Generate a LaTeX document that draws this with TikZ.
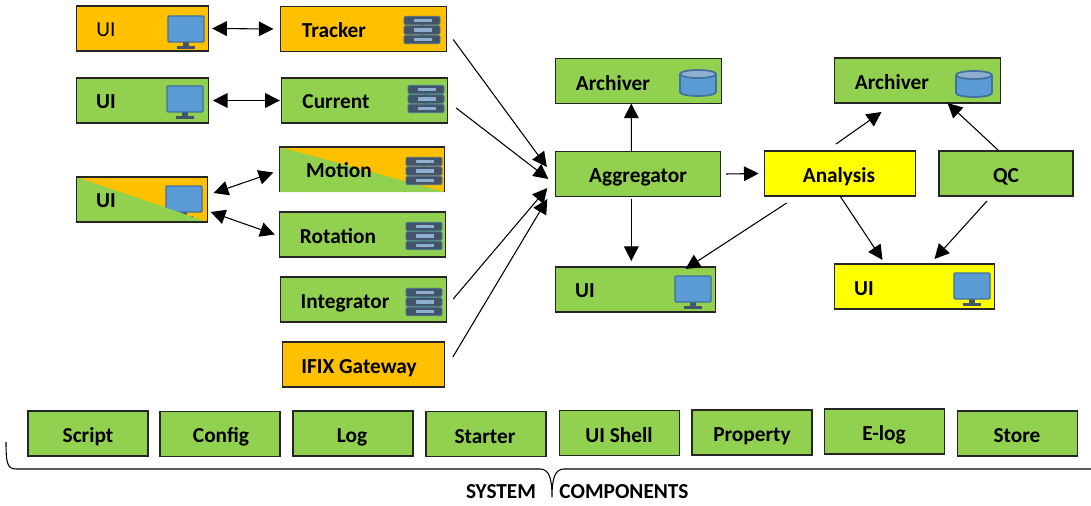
\documentclass[tikz,border=0pt]{standalone}
\usepackage{fontspec}
\setmainfont{Carlito}
\usetikzlibrary{arrows.meta}
\definecolor{boxgreen}{HTML}{92D050}
\definecolor{boxorange}{HTML}{FFC000}
\definecolor{boxyellow}{HTML}{FFFF00}
\definecolor{iconblue}{HTML}{5B9BD5}
\definecolor{iconedge}{HTML}{41719C}
\definecolor{icondark}{HTML}{44546A}
\definecolor{iconlight}{HTML}{8FAFD0}
\tikzset{
  box/.style={draw=black!85, line width=.9pt, inner sep=0pt, outer sep=0pt, minimum height=33.75pt, fill=boxgreen},
  widebox/.style={box, minimum width=124pt},
  uibox/.style={box, minimum width=98.5pt},
  midbox/.style={box, minimum width=113pt},
  toolbox/.style={box, minimum width=90pt},
  lbl/.style={inner sep=0pt, yshift=-1.7pt, text height=10pt, text depth=3pt, font=\fontsize{16}{18}\selectfont\bfseries},
  conn/.style={line width=.8pt, black, -{Triangle[length=11pt,width=11pt]}},
  twoway/.style={line width=.8pt, black, {Triangle[length=11pt,width=11pt]}-{Triangle[length=11pt,width=11pt]}},
  monitor/.pic={
    \fill[icondark] (-3,9) rectangle (3,15);
    \fill[icondark] (-9,14) rectangle (9,17);
    \draw[iconedge, line width=1pt, fill=iconblue, rounded corners=.8pt] (-18,-16) rectangle (18,10);
  },
  serverstack/.pic={
    \fill[icondark] (-1,-8) rectangle (1,8);
    \foreach \rowy in {-9.5,0,9.5}{
      \draw[iconedge, line width=.5pt, fill=icondark, rounded corners=1pt] (-18,\rowy-4.2) rectangle (18,\rowy+4.2);
      \fill[iconlight] (-8,\rowy-1.7) rectangle (10,\rowy+1.7);
      \fill[black!70] (13.5,\rowy) circle (1.1pt);
    }
  },
  drum/.pic={
    \draw[iconedge, line width=1.3pt, fill=iconblue] (-18,-9) -- (-18,9) arc[start angle=180, end angle=0, x radius=18, y radius=4] -- (18,-9);
    \draw[iconedge, line width=1.3pt, fill=iconlight] (0,-9) ellipse[x radius=18, y radius=4];
  }
}
\begin{document}
\begin{tikzpicture}[x=.75pt, y=-.75pt]
  \useasboundingbox (0,0) rectangle (1091,506);
  % sources
  \node[uibox, fill=boxorange] (uiTracker) at (142.5,28.5) {};
  \node[widebox, fill=boxorange] (tracker) at (363.5,29) {};
  \node[uibox] (uiCurrent) at (142.5,100.5) {};
  \node[widebox] (current) at (364.5,100.5) {};
  \node[uibox, fill=boxorange] (uiMotion) at (142,199.5) {};
  \pic at (184,202) {monitor};
  \fill[boxgreen] (uiMotion.north west) -- (uiMotion.south east) -- (uiMotion.south west) -- cycle;
  \draw[black!85, line width=.9pt] (uiMotion.north west) rectangle (uiMotion.south east);
  \node[widebox, draw=none, fill=boxorange] (motion) at (362,169.5) {};
  \fill[boxgreen] (motion.north west) -- (motion.south east) -- (motion.south west) -- cycle;
  \draw[black!85, line width=.9pt] (motion.south west) -- (motion.north west) -- (motion.north east) -- (motion.south east);
  \node[widebox] (rotation) at (362.5,234.5) {};
  \node[widebox] (integrator) at (363.5,299.5) {};
  \node[widebox, minimum width=122pt, fill=boxorange] (gateway) at (363.5,364.5) {};
  % centre and right
  \node[widebox] (archiverA) at (638.5,81) {};
  \node[widebox] (aggregator) at (638,174) {};
  \node[midbox, fill=boxyellow] (analysis) at (840,173.5) {};
  \node[toolbox, minimum width=100.5pt] (qc) at (1006,173.5) {};
  \node[widebox] (archiverB) at (917.5,80.5) {};
  \node[box, minimum width=120.5pt] (uiAggregator) at (635.5,289.5) {};
  \node[box, minimum width=120.5pt, fill=boxyellow] (uiAnalysis) at (914.5,286.5) {};
  % shared components
  \node[toolbox] (script) at (88,433.5) {};
  \node[toolbox] (config) at (220,434) {};
  \node[toolbox] (log) at (353,433.5) {};
  \node[toolbox] (starter) at (486,434) {};
  \node[toolbox] (uishell) at (619.5,433) {};
  \node[toolbox] (property) at (752,432.5) {};
  \node[toolbox] (elog) at (884.5,431.5) {};
  \node[toolbox] (store) at (1017.5,433.5) {};
  % icons
  \pic at (186,32) {monitor};
  \pic at (185,102) {monitor};
  \pic at (693,292) {monitor};
  \pic at (972,289) {monitor};
  \pic at (422,30) {serverstack};
  \pic at (426,99) {serverstack};
  \pic at (424,171) {serverstack};
  \pic at (424,236) {serverstack};
  \pic at (424,302) {serverstack};
  \pic at (698,83) {drum};
  \pic at (974,84) {drum};
  % labels
  \node[lbl, font=\fontsize{16}{18}\selectfont] (uiTrackerT) at (106,30) {UI};
  \node[lbl] (trackerT) at (334,31) {Tracker};
  \node[lbl] (uiCurrentT) at (106,102) {UI};
  \node[lbl] (currentT) at (336,102) {Current};
  \node[lbl] (uiMotionT) at (106,201) {UI};
  \node[lbl] (motionT) at (339,171) {Motion};
  \node[lbl] (rotationT) at (338,237) {Rotation};
  \node[lbl] (integratorT) at (345,302) {Integrator};
  \node[lbl] (gatewayT) at (359,367) {IFIX Gateway};
  \node[lbl] (archiverAT) at (613,84) {Archiver};
  \node[lbl] (aggregatorT) at (638,176) {Aggregator};
  \node[lbl] (analysisT) at (839,176) {Analysis};
  \node[lbl] (qcT) at (1006,176) {QC};
  \node[lbl] (archiverBT) at (892,83) {Archiver};
  \node[lbl] (uiAggregatorT) at (585,291) {UI};
  \node[lbl] (uiAnalysisT) at (864,289) {UI};
  \node[lbl] (scriptT) at (88,436) {Script};
  \node[lbl] (configT) at (221,436) {Config};
  \node[lbl] (logT) at (352,436) {Log};
  \node[lbl] (starterT) at (485,437) {Starter};
  \node[lbl] (uishellT) at (619,436) {UI Shell};
  \node[lbl] (propertyT) at (752,435) {Property};
  \node[lbl] (elogT) at (884,434) {E-log};
  \node[lbl] (storeT) at (1017,436) {Store};
  \node[lbl] (systemT) at (501,492) {SYSTEM};
  \node[lbl] (componentsT) at (624,492) {COMPONENTS};
  % connectors
  \draw[twoway] ([xshift=3pt]uiTracker.east) -- ([xshift=-5.5pt]tracker.west);
  \draw[twoway] ([xshift=3.5pt]uiCurrent.east) -- ([xshift=-1.5pt]current.west);
  \draw[twoway] ([shift={(6,16)}]uiMotion.north east) -- ([shift={(-6,3)}]motion.west);
  \draw[twoway] ([shift={(3,-10)}]uiMotion.south east) -- ([shift={(-5,0)}]rotation.west);
  \draw[conn] ([shift={(7,-12)}]tracker.south east) -- ([shift={(-8.5,-7)}]aggregator.west);
  \draw[conn] ([shift={(9,-15)}]current.south east) -- ([shift={(-7,5)}]aggregator.west);
  \draw[conn] ([shift={(7,-23)}]integrator.south east) -- ([shift={(-8,14)}]aggregator.west);
  \draw[conn] ([shift={(8,-30)}]gateway.south east) -- ([shift={(-8,25)}]aggregator.west);
  \draw[conn] ([xshift=-5pt]aggregator.north) -- ([xshift=-5.4pt]archiverA.south);
  \draw[conn] ([shift={(-6.7,2)}]aggregator.south) -- ([shift={(-4.2,-6)}]uiAggregator.north);
  \draw[conn] ([xshift=4pt]aggregator.east) -- ([xshift=-4.5pt]analysis.west);
  \draw[conn] ([shift={(-4,-7)}]analysis.north) -- ([shift={(-36,9)}]archiverB.south);
  \draw[conn] ([shift={(-8,-1)}]qc.north) -- ([shift={(30,0)}]archiverB.south);
  \draw[conn] ([shift={(22,7)}]analysis.south west) -- ([shift={(50,2)}]uiAggregator.north);
  \draw[conn] (analysis.south) -- ([shift={(-32,-4)}]uiAnalysis.north);
  \draw[conn] ([shift={(-19,5)}]qc.south) -- ([shift={(20,-5)}]uiAnalysis.north);
  % brace
  \coordinate (braceL) at (6,442);
  \coordinate (braceTip) at (552,497);
  \coordinate (braceR) at (1091,469);
  \draw[black, line width=.8pt] (braceL) .. controls (6,462) and (7,469) .. (16,469) -- (540,469)
    .. controls (549,469) and (552,478) .. (braceTip) .. controls (552,478) and (555,469) .. (564,469) -- (braceR);
\end{tikzpicture}
\end{document}
